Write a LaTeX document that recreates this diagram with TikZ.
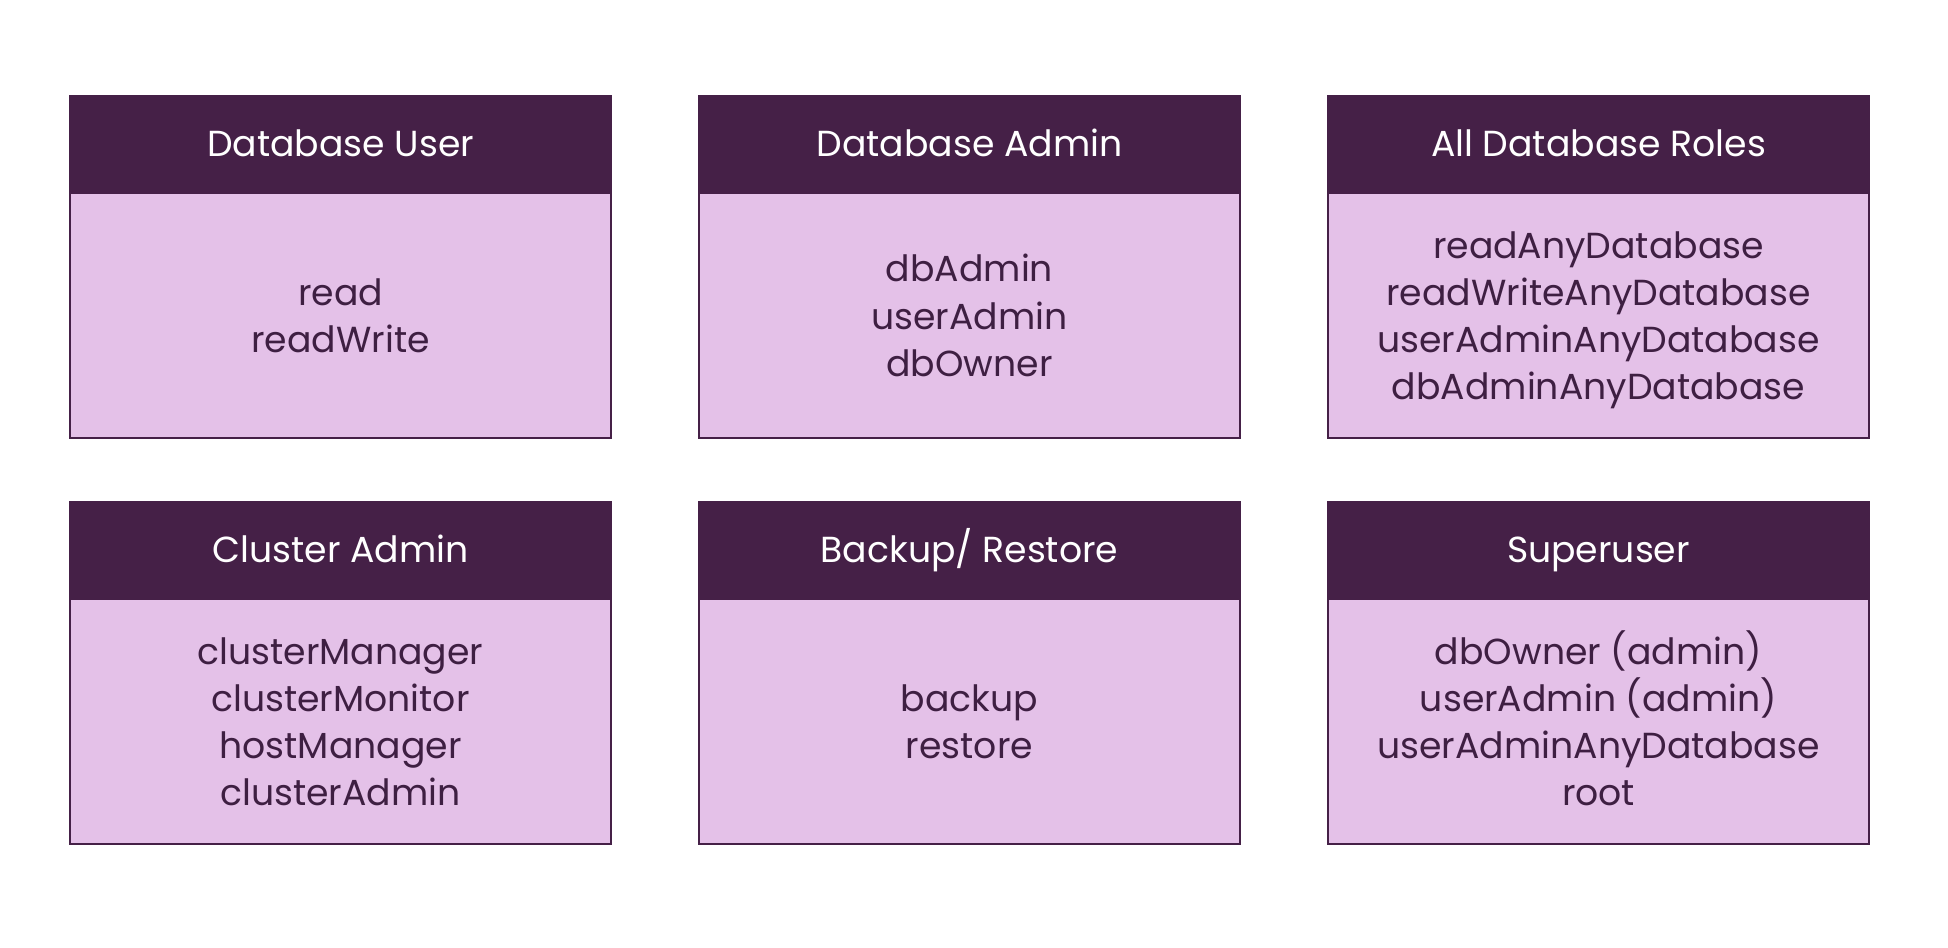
\documentclass[tikz,border=0pt]{standalone}
\usepackage{fontspec}
\setmainfont{Poppins}
\usetikzlibrary{positioning}
\definecolor{headpurple}{HTML}{452047}
\definecolor{bodylilac}{HTML}{E4C1E8}
\definecolor{inkpurple}{HTML}{3E1F42}
\tikzset{
    rolehead/.style={draw=headpurple, fill=headpurple, text=white, line width=0.6pt,
        minimum width=5.41cm, minimum height=0.97cm, inner sep=0pt, outer sep=0pt,
        text height=0.8em, text depth=0.1em,
        anchor=north west, font=\fontsize{10.3}{13.4}\selectfont},
    rolebody/.style={draw=headpurple, fill=bodylilac, text=inkpurple, line width=0.6pt,
        minimum width=5.41cm, minimum height=2.45cm, inner sep=0pt, outer sep=0pt,
        align=center, font=\fontsize{10.3}{13.4}\selectfont}
}
\begin{document}
\begin{tikzpicture}[node distance=0pt]
                \useasboundingbox (0,0) rectangle (19.48,9.48);

                % first row
                \node[rolehead] (dbuser) at (0.70,8.52) {Database User};
                \node[rolebody, below=of dbuser] (dbuserroles) {read\\readWrite};
                \node[rolehead] (dbadmin) at (6.99,8.52) {Database Admin};
                \node[rolebody, below=of dbadmin] (dbadminroles) {dbAdmin\\userAdmin\\dbOwner};
                \node[rolehead] (alldb) at (13.28,8.52) {All Database Roles};
                \node[rolebody, below=of alldb] (alldbroles) {readAnyDatabase\\readWriteAnyDatabase\\userAdminAnyDatabase\\\smash{dbAdminAnyDatabase}};

                % second row
                \node[rolehead] (cluster) at (0.70,4.46) {Cluster Admin};
                \node[rolebody, below=of cluster] (clusterroles) {clusterManager\\clusterMonitor\\hostManager\\clusterAdmin};
                \node[rolehead] (backup) at (6.99,4.46) {Backup/ Restore};
                \node[rolebody, below=of backup] (backuproles) {backup\\restore};
                \node[rolehead] (superuser) at (13.28,4.46) {Superuser};
                \node[rolebody, below=of superuser] (superuserroles) {\vphantom{d}\smash{dbOwner (admin)}\\userAdmin (admin)\\userAdminAnyDatabase\\root};
            \end{tikzpicture}
\end{document}
